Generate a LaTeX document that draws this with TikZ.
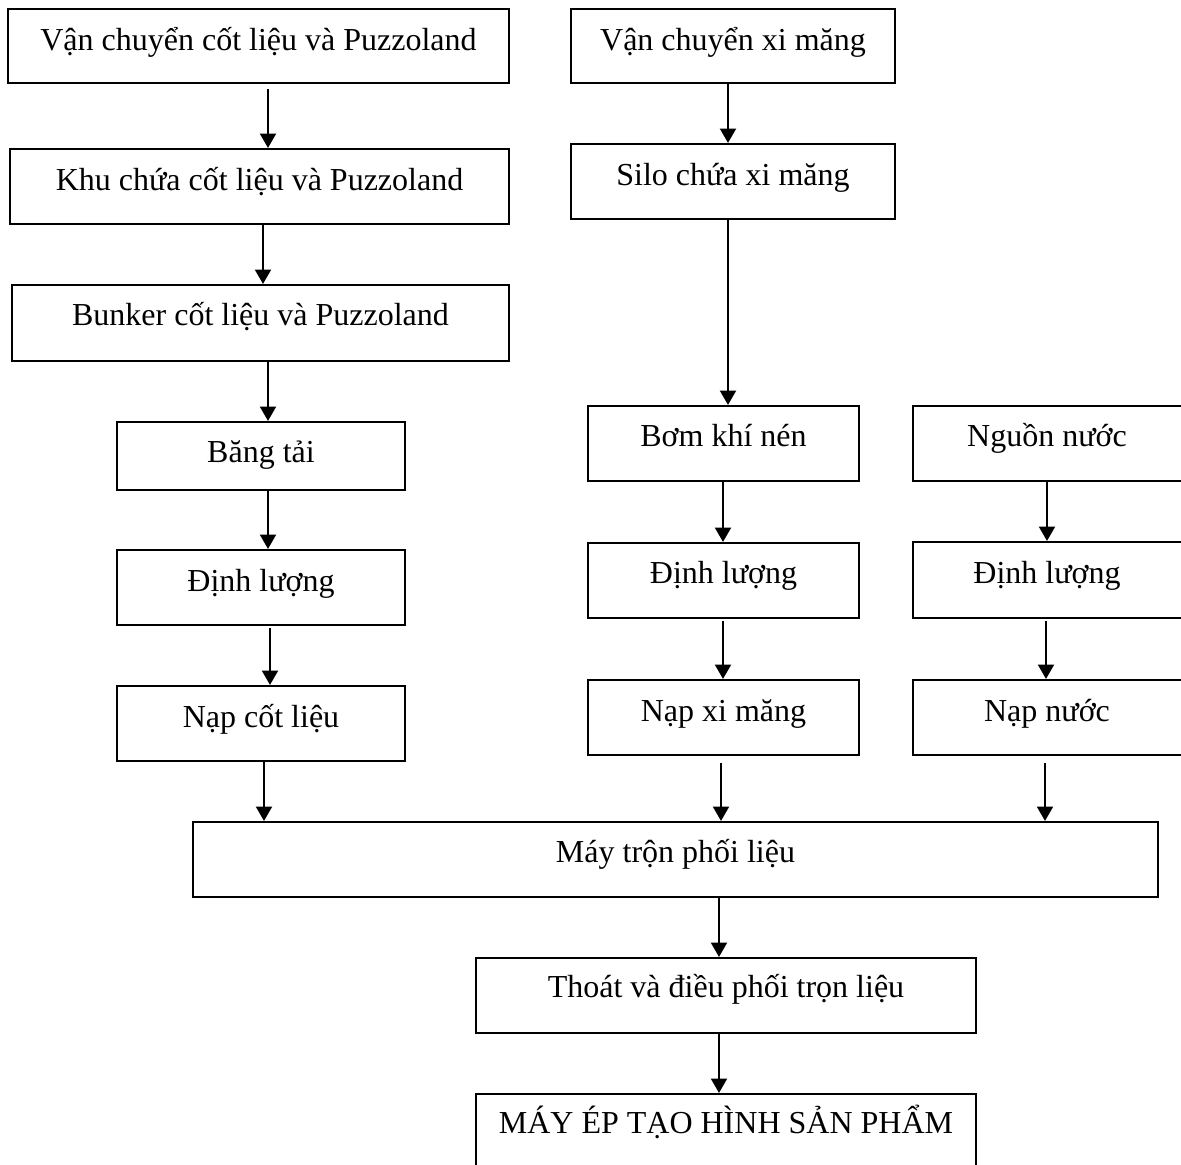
\documentclass[tikz,border=0pt]{standalone}
\usepackage{fontspec}
\setmainfont{Liberation Serif}
\usetikzlibrary{arrows.meta}
\newcommand\pxu{0.375pt}
\begin{document}
\begin{tikzpicture}[x=0.375pt,y=-0.375pt,
  box/.style={draw=black, line width=0.8pt, inner sep=0pt, fill=none},
  txt/.style={anchor=base, inner sep=0pt, font=\fontsize{12}{14}\selectfont},
  arr/.style={line width=0.8pt, -{Triangle[width=6pt,length=5.4pt]}}]
\clip (0,0) rectangle (1181,1164);
\fill[white] (0,0) rectangle (1181,1164);
% left column
\node[box, minimum width=501*\pxu, minimum height=74*\pxu] (A) at (258.5,46) {};
\node[txt] (tA) at (258.5,50) {Vận chuyển cốt liệu và Puzzoland};
\node[box, minimum width=499*\pxu, minimum height=75*\pxu] (B) at (259.5,186.5) {};
\node[txt] (tB) at (259.5,190) {Khu chứa cốt liệu và Puzzoland};
\node[box, minimum width=497*\pxu, minimum height=76*\pxu] (C) at (260.5,323) {};
\node[txt] (tC) at (260.5,325) {Bunker cốt liệu và Puzzoland};
\node[box, minimum width=288*\pxu, minimum height=68*\pxu] (D) at (261,456) {};
\node[txt] (tD) at (261,462) {Băng tải};
\node[box, minimum width=288*\pxu, minimum height=75*\pxu] (E) at (261,587.5) {};
\node[txt] (tE) at (261,591) {Định lượng};
\node[box, minimum width=288*\pxu, minimum height=75*\pxu] (F) at (261,723.5) {};
\node[txt] (tF) at (261,727) {Nạp cốt liệu};
% middle column
\node[box, minimum width=324*\pxu, minimum height=74*\pxu] (G) at (733,46) {};
\node[txt] (tG) at (733,50) {Vận chuyển xi măng};
\node[box, minimum width=324*\pxu, minimum height=75*\pxu] (H) at (733,181.5) {};
\node[txt] (tH) at (733,185) {Silo chứa xi măng};
\node[box, minimum width=271*\pxu, minimum height=75*\pxu] (I) at (723.5,443.5) {};
\node[txt] (tI) at (723.5,446) {Bơm khí nén};
\node[box, minimum width=271*\pxu, minimum height=75*\pxu] (J) at (723.5,580.5) {};
\node[txt] (tJ) at (723.5,583) {Định lượng};
\node[box, minimum width=271*\pxu, minimum height=75*\pxu] (K) at (723.5,717.5) {};
\node[txt] (tK) at (723.5,721) {Nạp xi măng};
% right column (cut at the right edge)
\node[box, minimum width=272*\pxu, minimum height=75*\pxu] (L) at (1049,443.5) {};
\node[txt] (tL) at (1047,446) {Nguồn nước};
\node[box, minimum width=272*\pxu, minimum height=76*\pxu] (M) at (1049,580) {};
\node[txt] (tM) at (1047,583) {Định lượng};
\node[box, minimum width=272*\pxu, minimum height=75*\pxu] (N) at (1049,717.5) {};
\node[txt] (tN) at (1047,721) {Nạp nước};
% bottom
\node[box, minimum width=965*\pxu, minimum height=75*\pxu] (O) at (675.5,859.5) {};
\node[txt] (tO) at (675.5,862) {Máy trộn phối liệu};
\node[box, minimum width=500*\pxu, minimum height=75*\pxu] (P) at (726,995.5) {};
\node[txt] (tP) at (726,997) {Thoát và điều phối trọn liệu};
\node[box, minimum width=500*\pxu, minimum height=75*\pxu] (Q) at (726,1131.5) {};
\node[txt] (tQ) at (726,1133) {MÁY ÉP TẠO HÌNH SẢN PHẨM};
% connectors
\draw[arr] ([xshift=9.5*\pxu,yshift=-5*\pxu]A.south) -- ([xshift=9.5*\pxu]A.south |- B.north);
\draw[arr] ([xshift=3.5*\pxu]B.south) -- ([xshift=3.5*\pxu]B.south |- C.north);
\draw[arr] ([xshift=7.5*\pxu]C.south) -- ([xshift=7.5*\pxu]C.south |- D.north);
\draw[arr] ([xshift=7*\pxu]D.south) -- ([xshift=7*\pxu]D.south |- E.north);
\draw[arr] ([xshift=9*\pxu,yshift=-2*\pxu]E.south) -- ([xshift=9*\pxu]E.south |- F.north);
\draw[arr] ([xshift=3*\pxu]F.south) -- ([xshift=3*\pxu]F.south |- O.north);
\draw[arr] ([xshift=-5*\pxu]G.south) -- ([xshift=-5*\pxu]G.south |- H.north);
\draw[arr] ([xshift=-5*\pxu]H.south) -- ([xshift=-5*\pxu]H.south |- I.north);
\draw[arr] ([xshift=-0.5*\pxu]I.south) -- ([xshift=-0.5*\pxu]I.south |- J.north);
\draw[arr] ([xshift=-0.5*\pxu,yshift=-2*\pxu]J.south) -- ([xshift=-0.5*\pxu]J.south |- K.north);
\draw[arr] ([xshift=-2.5*\pxu,yshift=-7*\pxu]K.south) -- ([xshift=-2.5*\pxu]K.south |- O.north);
\draw[arr] ([xshift=-2*\pxu]L.south) -- ([xshift=-2*\pxu]L.south |- M.north);
\draw[arr] ([xshift=-3*\pxu,yshift=-2*\pxu]M.south) -- ([xshift=-3*\pxu]M.south |- N.north);
\draw[arr] ([xshift=-4*\pxu,yshift=-7*\pxu]N.south) -- ([xshift=-4*\pxu]N.south |- O.north);
\draw[arr] ([xshift=43.5*\pxu]O.south) -- ([xshift=43.5*\pxu]O.south |- P.north);
\draw[arr] ([xshift=-7*\pxu]P.south) -- ([xshift=-7*\pxu]P.south |- Q.north);
\end{tikzpicture}
\end{document}
